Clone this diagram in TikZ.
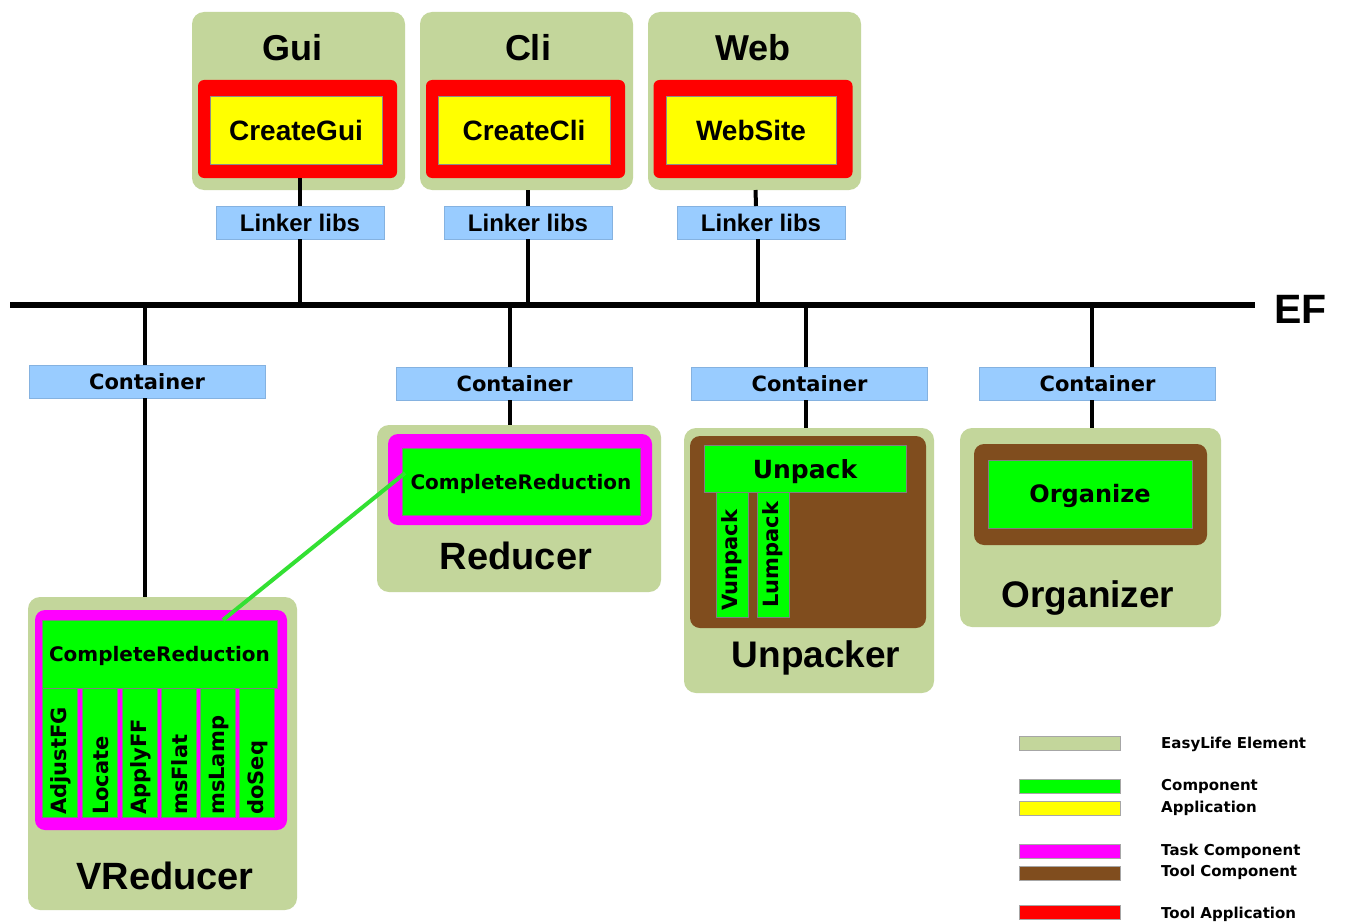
\documentclass[tikz,border=0pt]{standalone}
\usepackage{fontspec}
\setmainfont{Liberation Sans}
\newfontfamily\dvs{DejaVu Sans}
\usetikzlibrary{calc}
\newcommand\myfs[1]{\fontsize{#1}{#1}\selectfont}
\definecolor{elgreen}{HTML}{C3D69B}
\definecolor{compgreen}{HTML}{00FF00}
\definecolor{appyellow}{HTML}{FFFF00}
\definecolor{taskmag}{HTML}{FF00FF}
\definecolor{toolbrown}{HTML}{804D1E}
\definecolor{toolred}{HTML}{FF0000}
\definecolor{lblue}{HTML}{99CCFF}
\definecolor{lblueb}{HTML}{85B2E0}
\definecolor{linkgreen}{HTML}{33E033}
\tikzset{
  box/.style={inner sep=0pt, outer sep=0pt},
  capc/.style={text height=#1, text depth=0pt},
  elbox/.style={box, fill=elgreen, rounded corners=12},
  redbox/.style={box, fill=toolred, rounded corners=6},
  yelbox/.style={box, capc=20.2pt, fill=appyellow, draw=black!45, line width=0.6, font=\bfseries\myfs{28}},
  bluebox/.style={box, fill=lblue, draw=lblueb, line width=1},
  compbox/.style={box, fill=compgreen, draw=black!50, line width=0.6},
  taskbox/.style={box, fill=taskmag, rounded corners=10},
  brownbox/.style={box, fill=toolbrown, rounded corners=10},
  title/.style={inner sep=0pt, font=\bfseries\myfs{36}},
  conn/.style={line width=4, line cap=butt},
  busline/.style={line width=6},
  vlabel/.style={inner sep=1pt, rotate=90, anchor=west, font=\dvs\bfseries\myfs{21}},
}
\begin{document}
\begin{tikzpicture}[x=1pt,y=-1pt]
\useasboundingbox[fill=white] (0,0) rectangle (1346,923);

% ---- top applications
\node[elbox, minimum width=213, minimum height=178] (gui) at (298.5,101) {};
\node[elbox, minimum width=213, minimum height=178] (cli) at (526.5,101) {};
\node[elbox, minimum width=213, minimum height=178] (web) at (754.5,101) {};
\node[title] (guit) at (292,48) {Gui};
\node[title] (clit) at (528,48) {Cli};
\node[title] (webt) at (753,48) {Web};
\node[redbox, minimum width=199, minimum height=98] (red1) at (297.5,129) {};
\node[redbox, minimum width=199, minimum height=98] (red2) at (525.5,129) {};
\node[redbox, minimum width=199, minimum height=98] (red3) at (753,129) {};
\node[yelbox, minimum width=172, minimum height=68] (cgui) at (296,130) {CreateGui};
\node[yelbox, minimum width=172, minimum height=68] (ccli) at (524,130) {CreateCli};
\node[yelbox, minimum width=170, minimum height=68] (wsite) at (751,130) {WebSite};

\node[bluebox, capc=17.2pt, minimum width=168, minimum height=33, font=\bfseries\myfs{24}] (lk1) at (300,222.5) {Linker libs};
\node[bluebox, capc=17.2pt, minimum width=168, minimum height=33, font=\bfseries\myfs{24}] (lk2) at (528,222.5) {Linker libs};
\node[bluebox, capc=17.2pt, minimum width=168, minimum height=33, font=\bfseries\myfs{24}] (lk3) at (761,222.5) {Linker libs};

% ---- bus
\coordinate (busL) at (10,305);
\coordinate (busR) at (1255,305);
\draw[busline] (busL) -- (busR);
\node[inner sep=0pt, anchor=west, font=\bfseries\myfs{41}] (ef) at (1274,309) {EF};

\draw[conn] (red1.south -| lk1.north) -- (lk1.north);
\draw[conn] (cli.south -| lk2.north) -- (lk2.north);
\draw[conn] ($(web.south)+(1,0)$) -- ($(lk3.north)+(-5,0)$);
\draw[conn] (lk1.south) -- (lk1.south |- busL);
\draw[conn] (lk2.south) -- (lk2.south |- busL);
\draw[conn] ($(lk3.south)+(-3,0)$) -- ($(lk3.south |- busL)+(-3,0)$);

% ---- containers
\tikzset{cont/.style={bluebox, capc=15.3pt, minimum width=236, minimum height=33, font=\dvs\bfseries\myfs{21}}}
\node[cont] (c1) at (147,381.5) {Container};
\node[cont] (c2) at (514.5,383.5) {Container};
\node[cont] (c3) at (809.5,383.5) {Container};
\node[cont] (c4) at (1097.5,383.5) {Container};

% ---- Reducer
\node[elbox, minimum width=284, minimum height=167] (red) at (519,508.5) {};
\node[taskbox, minimum width=264, minimum height=91] (redt) at (520,479.5) {};
\node[compbox, capc=14.6pt, minimum width=238, minimum height=67, font=\dvs\bfseries\myfs{20}] (rcr) at (521,482) {CompleteReduction};
\node[title, font=\bfseries\myfs{38}] (redl) at (516,556) {Reducer};

% ---- Unpacker
\node[elbox, minimum width=250, minimum height=265] (unp) at (809,560.5) {};
\node[brownbox, minimum width=236, minimum height=192] (unpb) at (808,532) {};
\node[compbox, capc=18.2pt, minimum width=202, minimum height=47, font=\dvs\bfseries\myfs{25}] (unpack) at (805,469) {Unpack};
\node[compbox, minimum width=32, minimum height=125] (vunp) at (732,554.5) {};
\node[compbox, minimum width=32, minimum height=125] (lump) at (773,554.5) {};
\node[vlabel] (vunpl) at ($(vunp.south)+(0,-5)$) {Vunpack};
\node[vlabel] (lumpl) at ($(lump.south)+(0,-8)$) {Lumpack};
\node[title, font=\bfseries\myfs{37}] (unpl) at (816,658) {Unpacker};

% ---- Organizer
\node[elbox, minimum width=261, minimum height=199] (org) at (1090.5,527.5) {};
\node[brownbox, minimum width=233, minimum height=101] (orgb) at (1090.5,494.5) {};
\node[compbox, capc=17.5pt, minimum width=204, minimum height=68, font=\dvs\bfseries\myfs{24}] (orgz) at (1090,494) {Organize};
\node[title, font=\bfseries\myfs{37}] (orgl) at (1088,598) {Organizer};

% ---- VReducer
\node[elbox, minimum width=269, minimum height=313] (vred) at (162.5,753.5) {};
\node[taskbox, minimum width=252, minimum height=220] (vredt) at (161,720) {};
\node[compbox, capc=14.6pt, minimum width=235, minimum height=68, font=\dvs\bfseries\myfs{20}] (vcr) at (159.5,654) {CompleteReduction};
\foreach \n/\x/\t in {k1/60/AdjustFG, k2/100/Locate, k3/139.5/ApplyFF, k4/179/msFlat, k5/218/msLamp, k6/257/doSeq}{
  \node[compbox, minimum width=35, minimum height=129] (\n) at (\x,752.5) {};
  \node[vlabel] (\n l) at ($(\n.south)+(1,-1)$) {\t};
}
\node[title, font=\bfseries\myfs{38}] (vredl) at (165,876) {VReducer};

% ---- bus to containers
\coordinate (b1) at (145,305);
\coordinate (b2) at (510,305);
\coordinate (b3) at (806,305);
\coordinate (b4) at (1092,305);
\draw[conn] (b1) -- (b1 |- c1.north);
\draw[conn] (b1 |- c1.south) -- (b1 |- vred.north);
\draw[conn] (b2) -- (b2 |- c2.north);
\draw[conn] (b2 |- c2.south) -- (b2 |- red.north);
\draw[conn] (b3) -- (b3 |- c3.north);
\draw[conn] (b3 |- c3.south) -- (b3 |- unp.north);
\draw[conn] (b4) -- (b4 |- c4.north);
\draw[conn] (b4 |- c4.south) -- (b4 |- org.north);

% ---- green link
\draw[linkgreen, line width=4] ($(vcr.north west)!0.77!(vcr.north east)$) -- ($(rcr.west)+(3,-9)$);

% ---- legend
\tikzset{leg/.style={box, minimum width=101, minimum height=14, draw=black!35, line width=0.6},
         legt/.style={inner sep=0pt, anchor=west, font=\dvs\bfseries\myfs{15}}}
\node[leg, fill=elgreen] (l1) at (1069.5,743.5) {};
\node[leg, fill=compgreen] (l2) at (1069.5,786) {};
\node[leg, fill=appyellow] (l3) at (1069.5,808) {};
\node[leg, fill=taskmag] (l4) at (1069.5,851) {};
\node[leg, fill=toolbrown] (l5) at (1069.5,873) {};
\node[leg, fill=toolred] (l6) at (1069.5,912.5) {};
\node[legt] (t1) at (1161,744) {EasyLife Element};
\node[legt] (t2) at (1161,786) {Component};
\node[legt] (t3) at (1161,808) {Application};
\node[legt] (t4) at (1161,851) {Task Component};
\node[legt] (t5) at (1161,872) {Tool Component};
\node[legt] (t6) at (1161,914) {Tool Application};
\end{tikzpicture}
\end{document}
